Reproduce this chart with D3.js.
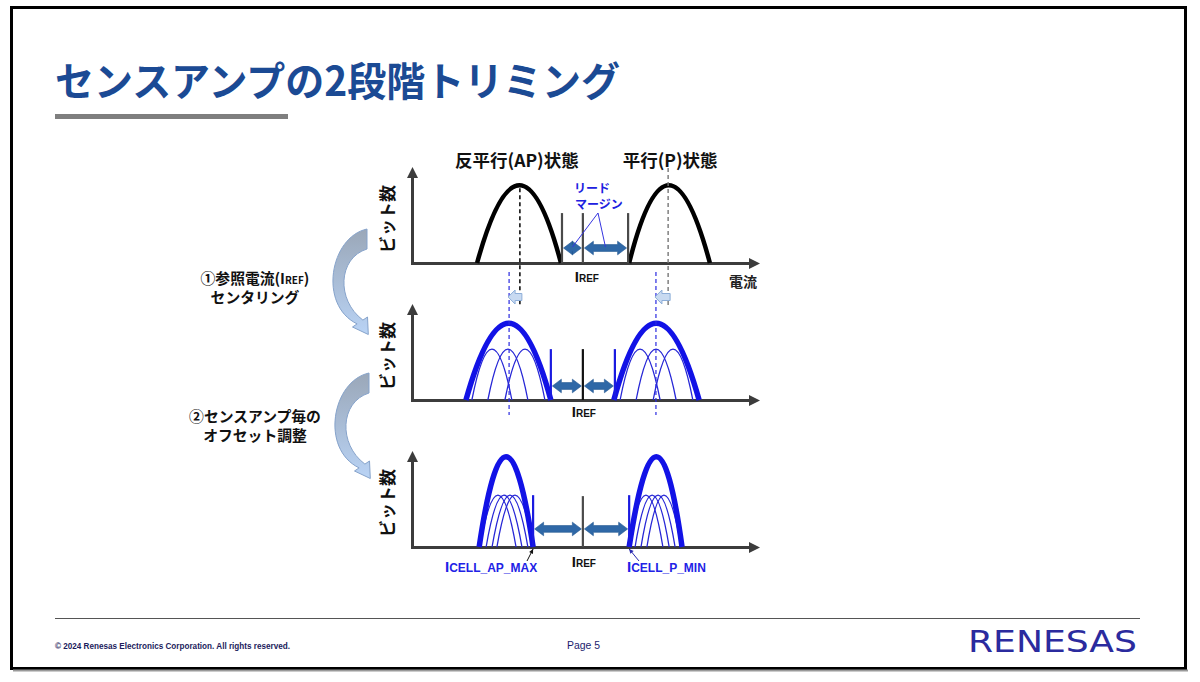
<!DOCTYPE html>
<html>
<head>
<meta charset="utf-8">
<script src="https://cdn.jsdelivr.net/npm/d3@7"></script>
<style>
    body { margin: 0; background: #fff; }
    svg { display: block; font-family: "Noto Sans CJK JP", "Noto Sans", sans-serif; }
</style>
</head>
<body>
<script>
// values; current and bit count both run 0..100 inside each panel
const titleText = 'センスアンプの2段階トリミング';
const stateNames = ['反平行(AP)状態', '平行(P)状態'];
const marginWords = ['リード', 'マージン'];
const countName = 'ビット数';
const currentName = '電流';
const refName = 'I_{REF}';
const limitNames = ['I_{CELL_AP_MAX}', 'I_{CELL_P_MIN}'];
const stepLines = [['①参照電流(I_{REF})', 'センタリング'], ['②センスアンプ毎の', 'オフセット調整']];
const footerText = ['© 2024 Renesas Electronics Corporation. All rights reserved.', 'Page 5', 'RENESAS'];

const iref = 49.1;
// whole AP / P distributions per panel: [start, peak, end, height]
const apTotal = [[18.7, 31.0, 42.8, 81], [15.5, 27.9, 39.9, 80], [19.3, 27.0, 34.8, 94]];
const pTotal = [[62.4, 73.6, 85.6, 81], [58.0, 70.1, 82.5, 80], [62.4, 70.4, 77.6, 94]];
// single sense-amp distributions per panel
const apAmps = [
    [],
    [[17.2, 23.0, 28.7, 53], [21.8, 27.6, 33.3, 53], [26.7, 32.5, 38.2, 53]],
    [[19.5, 24.7, 29.9, 54], [21.3, 26.4, 31.6, 54], [23.0, 28.2, 33.3, 54], [24.4, 29.6, 34.8, 54]]
];
const pAmps = [
    [],
    [[59.8, 65.5, 71.3, 53], [64.4, 70.1, 75.9, 53], [69.3, 75.0, 80.7, 53]],
    [[62.4, 67.2, 72.1, 54], [64.1, 69.0, 73.9, 54], [65.8, 70.7, 75.6, 54], [67.5, 72.4, 77.3, 54]]
];
// read limits left / right of IREF
const limitPos = [[43.1, 62.1], [39.9, 58.3], [34.8, 62.4]];
const limitHeight = [52, 53, 54];
const refHeight = [52, 53, 53];
const marginArrowLevel = [15.6, 14.6, 18.8];


class TrimmingSlide {
    constructor() {
        this.svg = d3.select('body').append('svg').attr('width', 1200).attr('height', 682);
        this.x = d3.scaleLinear().domain([0, 100]).range([412, 760]);
        this.panelBase = [263, 400, 547];
        this.panelHeight = 96;
    }

    yScale(i) {
        const b = this.panelBase[i];
        return d3.scaleLinear().domain([0, 100]).range([b, b - this.panelHeight]);
    }

    draw() {
        this.drawFrame();
        for (let i = 0; i < 3; i += 1) {
            this.drawPanel(i);
        }
        this.drawTopExtras();
        this.drawBottomExtras();
        this.drawGuides();
        this.drawSteps();
        this.drawFooter();
    }

    // "I_{REF}" -> I + small REF on the same baseline
    richText(sel, str, size, subSize) {
        str.split(/_\{(.*?)\}/).forEach(function (p, k) {
            if (!p) return;
            sel.append('tspan').attr('font-size', k % 2 ? subSize : size).text(p);
        });
        return sel;
    }

    drawFrame() {
        const svg = this.svg;
        svg.append('rect').attr('x', 11.5).attr('y', 7.5).attr('width', 1174).attr('height', 661)
            .attr('fill', '#fff').attr('stroke', '#000').attr('stroke-width', 3);
        svg.append('line').attr('x1', 13).attr('x2', 1188).attr('y1', 670.5).attr('y2', 670.5)
            .attr('stroke', '#9a9a9a').attr('stroke-width', 2);

        svg.append('text').attr('x', 55).attr('y', 96)
            .attr('font-size', 40).attr('font-weight', 700).attr('fill', '#1b4a94')
            .attr('textLength', 565).attr('lengthAdjust', 'spacingAndGlyphs')
            .text(titleText);
        svg.append('rect').attr('x', 55).attr('y', 114).attr('width', 233).attr('height', 5)
            .attr('fill', '#7f7f7f');
    }

    dblArrow(g, xa, xb, yy) {
        const L = 9, H = 6.8, S = 3.4;
        const d = `M${xa},${yy}L${xa + L},${yy - H}V${yy - S}H${xb - L}V${yy - H}L${xb},${yy}` +
            `L${xb - L},${yy + H}V${yy + S}H${xa + L}V${yy + H}Z`;
        g.append('path').attr('d', d).attr('fill', '#2f68a7').attr('stroke', '#245891').attr('stroke-width', 0.6);
    }

    drawPanel(i) {
        const x = this.x, y = this.yScale(i);
        const g = this.svg.append('g').attr('class', 'panel');
        const axisColor = '#3c3c3c';

        const xAxis = d3.axisBottom(x.copy().range([x(0), x(100) - 9])).tickValues([]).tickSizeOuter(0);
        g.append('g').attr('transform', `translate(0,${y(0)})`).call(xAxis)
            .call(a => a.select('.domain').attr('stroke', axisColor).attr('stroke-width', 3));
        const yAxis = d3.axisLeft(y.copy().range([y(0) + 1.5, y(100) + 9])).tickValues([]).tickSizeOuter(0);
        g.append('g').attr('transform', `translate(${x(0)},0)`).call(yAxis)
            .call(a => a.select('.domain').attr('stroke', axisColor).attr('stroke-width', 3));
        g.append('path').attr('d', `M${x(100)},${y(0) + 0.5}l-11,-5.5v11z`).attr('fill', axisColor);
        g.append('path').attr('d', `M${x(0) + 0.5},${y(100)}l-5.5,11h11z`).attr('fill', axisColor);

        g.append('text')
            .attr('transform', `translate(394,${y(50) + 4}) rotate(-90)`)
            .attr('text-anchor', 'middle').attr('font-size', 17).attr('font-weight', 700).attr('fill', '#111')
            .text(countName);

        const bump = function (d) {
            const p = d3.path();
            p.moveTo(x(d[0]), y(0));
            p.quadraticCurveTo(x(d[1]), y(2 * d[3]), x(d[2]), y(0));
            return p.toString();
        };

        g.selectAll('path.amp').data(apAmps[i].concat(pAmps[i])).join('path')
            .attr('class', 'amp').attr('d', bump)
            .attr('fill', 'none').attr('stroke', '#2626d6').attr('stroke-width', 1.3);

        g.selectAll('path.total').data([apTotal[i], pTotal[i]]).join('path')
            .attr('class', 'total').attr('d', bump)
            .attr('fill', 'none')
            .attr('stroke', i === 0 ? '#000' : '#1212e6')
            .attr('stroke-width', i === 0 ? 4.5 : 5.5);

        // read limits and reference
        g.selectAll('line.limit').data(limitPos[i]).join('line')
            .attr('class', 'limit')
            .attr('x1', d => x(d)).attr('x2', d => x(d))
            .attr('y1', y(0)).attr('y2', y(limitHeight[i]))
            .attr('stroke', i === 0 ? '#4a4a4a' : '#1a1ae0').attr('stroke-width', 2.2);
        g.append('line')
            .attr('x1', x(iref)).attr('x2', x(iref)).attr('y1', y(0)).attr('y2', y(refHeight[i]))
            .attr('stroke', i === 1 ? '#111' : '#4a4a4a').attr('stroke-width', 2.2);

        const ay = y(marginArrowLevel[i]);
        this.dblArrow(g, x(limitPos[i][0]) + 1.5, x(iref) - 1.5, ay);
        this.dblArrow(g, x(iref) + 1.5, x(limitPos[i][1]) - 1.5, ay);

        const t = g.append('text')
            .attr('x', x(iref) + [4, 1, 1][i]).attr('y', y(0) + [19, 17, 20][i])
            .attr('text-anchor', 'middle').attr('font-family', '"Liberation Sans", Arial, sans-serif')
            .attr('font-weight', 700).attr('fill', '#111');
        this.richText(t, refName, 15, 10);
    }

    drawTopExtras() {
        const x = this.x, y = this.yScale(0), svg = this.svg;

        svg.selectAll('text.state').data(stateNames).join('text')
            .attr('class', 'state')
            .attr('x', (d, k) => x([apTotal[0][1], pTotal[0][1]][k]) + [-3, 2][k])
            .attr('y', 167)
            .attr('text-anchor', 'middle').attr('font-size', 17.5).attr('font-weight', 700).attr('fill', '#111')
            .text(d => d);

        svg.selectAll('text.margin').data(marginWords).join('text')
            .attr('class', 'margin')
            .attr('x', (d, k) => [592, 599][k]).attr('y', (d, k) => [193, 209][k])
            .attr('text-anchor', 'middle').attr('font-size', 12).attr('font-weight', 700).attr('fill', '#2020e0')
            .text(d => d);

        // leaders from the words to both margin arrows
        const mids = [(limitPos[0][0] + iref) / 2, (iref + limitPos[0][1]) / 2];
        svg.selectAll('line.leader').data(mids).join('line')
            .attr('class', 'leader')
            .attr('x1', 598).attr('y1', 213)
            .attr('x2', d => x(d)).attr('y2', y(marginArrowLevel[0]) - 1)
            .attr('stroke', '#3535e0').attr('stroke-width', 1);

        svg.append('text').attr('x', 757).attr('y', 287)
            .attr('text-anchor', 'end').attr('font-size', 14).attr('font-weight', 700).attr('fill', '#222')
            .text(currentName);
    }

    drawBottomExtras() {
        const x = this.x, y = this.yScale(2), svg = this.svg;
        const lx = [445, 627];
        limitNames.forEach((name, k) => {
            const t = svg.append('text').attr('x', lx[k]).attr('y', y(0) + 25)
                .attr('font-family', '"Liberation Sans", Arial, sans-serif')
                .attr('font-weight', 700).attr('fill', '#2222e6');
            this.richText(t, name, 15, 12);
        });
        // small pointers from the labels to the limits
        const tips = [[x(limitPos[2][0]), 527, '#111'], [x(limitPos[2][1]), 639, '#2a2ab0']];
        tips.forEach(function (d) {
            const tx = d[0], ty = y(0) + 2, sx = d[1], sy = y(0) + 14;
            svg.append('line').attr('x1', sx).attr('y1', sy).attr('x2', tx).attr('y2', ty)
                .attr('stroke', d[2]).attr('stroke-width', 1);
            const ang = Math.atan2(ty - sy, tx - sx);
            const p = [[tx, ty],
                [tx - 5 * Math.cos(ang - 0.45), ty - 5 * Math.sin(ang - 0.45)],
                [tx - 5 * Math.cos(ang + 0.45), ty - 5 * Math.sin(ang + 0.45)]];
            svg.append('path').attr('d', d3.line()(p) + 'Z').attr('fill', d[2]);
        });
    }

    drawGuides() {
        const x = this.x, yT = this.yScale(0), svg = this.svg;
        const vline = (xx, y1, y2, color, w) => svg.append('line')
            .attr('x1', xx).attr('x2', xx).attr('y1', y1).attr('y2', y2)
            .attr('stroke', color).attr('stroke-width', w).attr('stroke-dasharray', '4,3');

        vline(x(apTotal[0][1]), yT(apTotal[0][3]) + 3, 306, '#111', 1.6);
        vline(x(pTotal[0][1]), 168, 306, '#777', 1.4);
        vline(x(apTotal[1][1]), 272, 415, '#2a2ae0', 1.2);
        vline(x(pTotal[1][1]), 272, 415, '#2a2ae0', 1.2);

        // centring shift, old peak -> new peak
        const yc = 297;
        [[apTotal[0][1], apTotal[1][1]], [pTotal[0][1], pTotal[1][1]]].forEach(function (d) {
            const xt = x(d[1]) - 1, xs = x(d[0]) + 2;
            const pts = [[xt, yc], [xt + 7, yc - 7], [xt + 7, yc - 3.5], [xs, yc - 3.5],
                [xs, yc + 3.5], [xt + 7, yc + 3.5], [xt + 7, yc + 7]];
            svg.append('path').attr('d', d3.line()(pts) + 'Z')
                .attr('fill', '#c8daf1').attr('stroke', '#8daed8').attr('stroke-width', 1);
        });
    }

    drawSteps() {
        const svg = this.svg;
        const defs = svg.append('defs');
        const grad = defs.append('linearGradient').attr('id', 'curveFill')
            .attr('x1', 0).attr('y1', 0).attr('x2', 0).attr('y2', 1);
        grad.append('stop').attr('offset', '0%').attr('stop-color', '#9aa7b8');
        grad.append('stop').attr('offset', '100%').attr('stop-color', '#b9d3f5');

        const arrow = 'M367,229C330,237 318,305 357.1,323.9L352.5,327L368.3,334.5L367.5,317L362.9,320.1' +
            'C336,300 338,258 367,249Z';
        [[0, 0], [2, 144]].forEach(function (d) {
            svg.append('path').attr('d', arrow).attr('transform', `translate(${d[0]},${d[1]})`)
                .attr('fill', 'url(#curveFill)').attr('stroke', '#86a3cb').attr('stroke-width', 1);
        });

        const baselines = [[284, 303], [422, 441]];
        stepLines.forEach((lines, k) => {
            lines.forEach((line, j) => {
                const t = svg.append('text').attr('x', 255).attr('y', baselines[k][j])
                    .attr('text-anchor', 'middle').attr('font-weight', 700).attr('fill', '#111');
                this.richText(t, line, 14.8, 10);
            });
        });
    }

    drawFooter() {
        const svg = this.svg;
        svg.append('line').attr('x1', 55).attr('x2', 1140).attr('y1', 618.5).attr('y2', 618.5)
            .attr('stroke', '#555').attr('stroke-width', 1);
        svg.append('text').attr('x', 55).attr('y', 649)
            .attr('font-family', '"Liberation Sans Narrow", "Liberation Sans", Arial, sans-serif')
            .attr('font-size', 9).attr('font-weight', 700).attr('fill', '#1c1c5c')
            .attr('textLength', 235).attr('lengthAdjust', 'spacingAndGlyphs')
            .text(footerText[0]);
        svg.append('text').attr('x', 567).attr('y', 649)
            .attr('font-family', '"Liberation Sans Narrow", "Liberation Sans", Arial, sans-serif')
            .attr('font-size', 11.5).attr('fill', '#1c1c6e')
            .attr('textLength', 33).attr('lengthAdjust', 'spacingAndGlyphs')
            .text(footerText[1]);
        svg.append('text').attr('x', 968).attr('y', 652)
            .attr('font-family', '"DejaVu Sans", sans-serif')
            .attr('font-size', 30).attr('fill', '#2b2b9e')
            .attr('textLength', 169).attr('lengthAdjust', 'spacingAndGlyphs')
            .text(footerText[2]);
    }
}

new TrimmingSlide().draw();
</script>
</body>
</html>
